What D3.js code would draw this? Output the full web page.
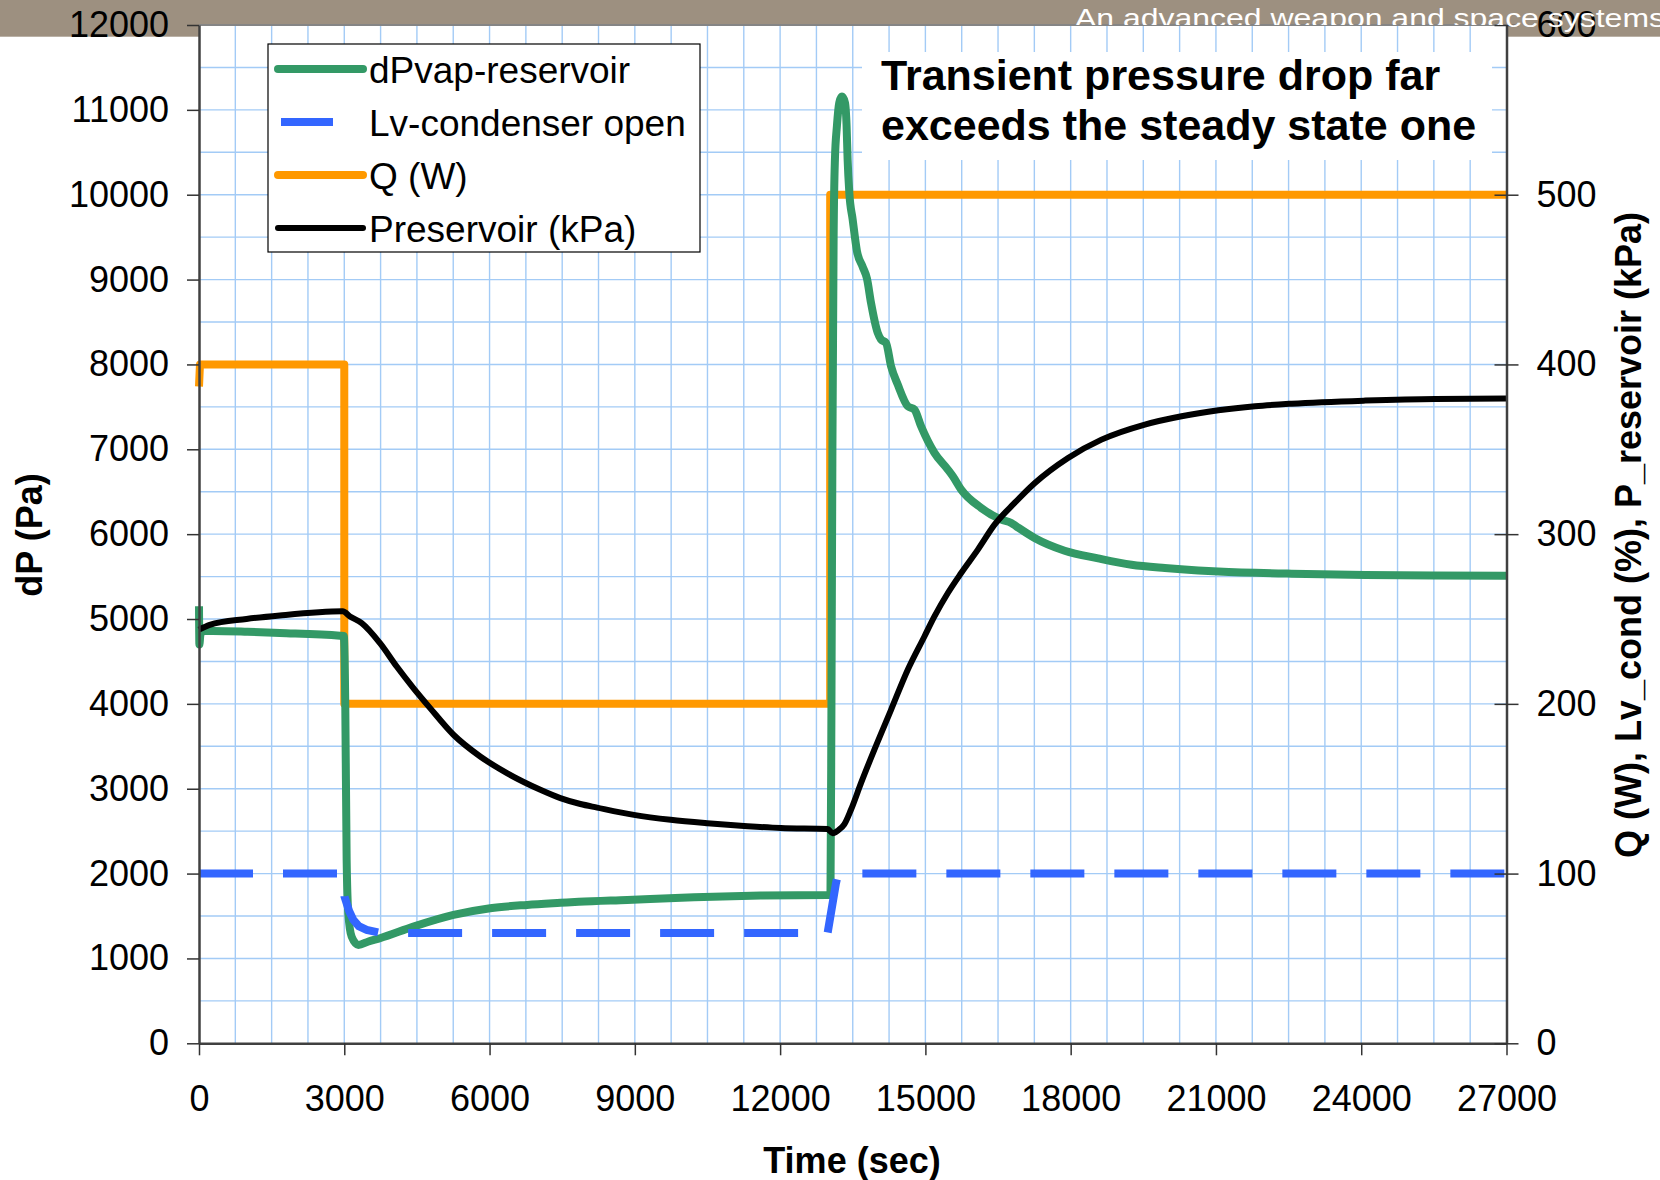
<!DOCTYPE html>
<html>
<head>
<meta charset="utf-8">
<script src="https://cdn.jsdelivr.net/npm/d3@7"></script>
<style>
  html, body { margin: 0; padding: 0; background: #fff; }
  svg { display: block; font-family: "Liberation Sans", Arial, sans-serif; }
</style>
</head>
<body>
<svg id="chart" width="1660" height="1180"></svg>
<script>
// values
// dPvap-reservoir (Pa, left axis)
const dpTime = [0, 8, 30, 100, 290, 1000, 1670, 2911, 2990, 3021, 3049, 3083, 3152, 3290, 3500, 3738, 4428, 5255, 6014, 6773, 7463, 7841, 8843, 10222, 11601, 12981, 13040, 13060, 13080, 13105, 13132, 13173, 13222, 13277, 13339, 13373, 13394, 13429, 13498, 13587, 13705, 13794, 13877, 14015, 14084, 14187, 14291, 14429, 14636, 14774, 14911, 15187, 15464, 15567, 15739, 16153, 16567, 16773, 16877, 17255, 17876, 18567, 19256, 19945, 20636, 21049, 22566, 24083, 25500, 27000]
const dpVal = [5150, 4700, 4820, 4858, 4860, 4850, 4835, 4803, 4800, 3969, 2161, 1533, 1257, 1159, 1200, 1238, 1375, 1513, 1592, 1631, 1655, 1667, 1690, 1722, 1741, 1749, 1749, 4000, 7000, 9500, 10416, 10809, 11085, 11156, 11085, 10809, 10416, 10024, 9709, 9335, 9150, 9010, 8726, 8373, 8294, 8255, 7979, 7763, 7507, 7468, 7271, 6958, 6761, 6682, 6525, 6309, 6171, 6132, 6092, 5955, 5805, 5715, 5640, 5601, 5573, 5561, 5534, 5519, 5513, 5511]

// Lv-condenser open (%, right axis)
const lvTime = [0, 3000, 3005, 3100, 3187, 3300, 3463, 3700, 4000, 12981, 13153, 13200, 27000]
const lvVal = [100, 100, 86.4, 78, 72.7, 69, 66.8, 65.4, 65, 65, 94.3, 100, 100]

// Q (W, right axis)
const qTime = [0, 20, 3000, 3000, 13034, 13034, 27000]
const qVal = [387, 400, 400, 200, 200, 500, 500]

// Preservoir (kPa, right axis)
const pTime = [0, 221, 980, 1670, 2966, 3118, 3360, 3738, 4083, 4428, 4773, 5255, 5807, 6359, 7049, 7463, 7876, 8222, 8980, 9739, 10498, 11256, 12015, 12981, 13084, 13200, 13325, 13463, 13670, 13945, 14291, 14636, 14980, 15187, 15464, 15739, 16084, 16428, 16842, 17255, 17946, 18636, 19532, 20290, 21049, 21807, 22566, 24083, 25532, 27000]
const pVal = [243.7, 246.6, 250, 252.1, 254.5, 251.5, 247.6, 235.8, 222, 209.3, 197.5, 181.8, 169, 159.2, 149.4, 144.5, 141, 138.9, 134.6, 131.7, 129.7, 128.1, 126.8, 126.2, 123.8, 125.5, 129, 137.6, 153.3, 172.9, 196.5, 220.1, 239.7, 251.5, 265.3, 277.1, 290.9, 305.6, 318.4, 330, 344.9, 355.7, 364.6, 369.5, 373, 375.4, 376.9, 378.7, 379.7, 379.9]

const xTicks = d3.range(0, 27001, 3000)
const yLeftTicks = d3.range(0, 12001, 1000)
const yRightTicks = d3.range(0, 601, 100)

const seriesNames = ['dPvap-reservoir', 'Lv-condenser open', 'Q (W)', 'Preservoir (kPa)']
const annotation = ['Transient pressure drop far', 'exceeds the steady state one']
const banner = 'An advanced weapon and space systems'

// layout
const margin = {left: 199, top: 25, right: 153.5, bottom: 136.7}
const W = 1660 - margin.left - margin.right
const H = 1180 - margin.top - margin.bottom
const svg = d3.select('#chart')

const x = d3.scaleLinear().domain([0, 27000]).range([0, W])
const yL = d3.scaleLinear().domain([0, 12000]).range([H, 0])
const yR = d3.scaleLinear().domain([0, 600]).range([H, 0])

// banner strip at the top
svg.append('rect').attr('x', 0).attr('y', 0).attr('width', 1660).attr('height', 36.7).attr('fill', '#9d9080')

const g = svg.append('g').attr('transform', `translate(${margin.left},${margin.top})`)

// plot background
g.append('rect').attr('width', W).attr('height', H).attr('fill', '#fff')

// grid
g.append('g').selectAll('line').data(d3.range(500, 12000, 500)).join('line')
  .attr('x1', 0).attr('x2', W).attr('y1', d => yL(d)).attr('y2', d => yL(d))
  .attr('stroke', '#a3cbf6').attr('stroke-width', 1.4)
g.append('g').selectAll('line').data(d3.range(750, 27000, 750)).join('line')
  .attr('y1', 0).attr('y2', H).attr('x1', d => x(d)).attr('x2', d => x(d))
  .attr('stroke', '#a3cbf6').attr('stroke-width', 1.4)
g.append('line').attr('x1', 0).attr('x2', W).attr('y1', 0).attr('y2', 0)
  .attr('stroke', '#858585').attr('stroke-width', 2)

// annotation box
g.append('rect').attr('x', 862 - margin.left).attr('y', 52 - margin.top)
  .attr('width', 630).attr('height', 108).attr('fill', '#fff')
g.append('text').attr('x', 881 - margin.left).attr('y', 90 - margin.top)
  .attr('font-size', 43).attr('font-weight', 'bold').attr('fill', '#000')
  .selectAll('tspan').data(annotation).join('tspan')
  .attr('x', 881 - margin.left).attr('dy', (d, i) => i === 0 ? 0 : 50).text(d => d)

// series
const mk = (ts, vs) => ts.map((t, i) => ({t: t, v: vs[i]}))
const lineR = d3.line().x(d => x(d.t)).y(d => yR(d.v))
const smoothL = d3.line().x(d => x(d.t)).y(d => yL(d.v)).curve(d3.curveMonotoneX)
const smoothR = d3.line().x(d => x(d.t)).y(d => yR(d.v)).curve(d3.curveMonotoneX)

g.append('path').attr('d', lineR(mk(qTime, qVal)))
  .attr('fill', 'none').attr('stroke', '#ff9900').attr('stroke-width', 8).attr('stroke-linejoin', 'round')
g.append('path').attr('d', smoothL(mk(dpTime, dpVal)))
  .attr('fill', 'none').attr('stroke', '#339966').attr('stroke-width', 8).attr('stroke-linejoin', 'round')
g.append('path').attr('d', lineR(mk(lvTime, lvVal)))
  .attr('fill', 'none').attr('stroke', '#3366ff').attr('stroke-width', 8).attr('stroke-dasharray', '54 30')
g.append('path').attr('d', smoothR(mk(pTime, pVal)))
  .attr('fill', 'none').attr('stroke', '#000').attr('stroke-width', 6).attr('stroke-linejoin', 'round')

// axes
const axisStyle = sel => {
  sel.attr('font-family', '"Liberation Sans", Arial, sans-serif')
  sel.select('.domain').attr('stroke', '#404040').attr('stroke-width', 2.5)
  sel.selectAll('.tick line').attr('stroke', '#333').attr('stroke-width', 1.5)
  sel.selectAll('.tick text').attr('font-size', 36).attr('fill', '#000')
}
const fmt = d3.format('d')
g.append('g').call(d3.axisLeft(yL).tickValues(yLeftTicks).tickFormat(fmt).tickSize(12).tickSizeOuter(0).tickPadding(18)).call(axisStyle)
g.append('g').attr('transform', `translate(0,${H})`)
  .call(d3.axisBottom(x).tickValues(xTicks).tickFormat(fmt).tickSize(12).tickSizeOuter(0).tickPadding(30)).call(axisStyle)
const rAxis = g.append('g').attr('transform', `translate(${W},0)`)
  .call(d3.axisRight(yR).tickValues(yRightTicks).tickFormat(fmt).tickSize(12).tickSizeOuter(0).tickPadding(18)).call(axisStyle)
rAxis.selectAll('.tick line').attr('x1', -12)

// axis titles
svg.append('text').attr('transform', 'translate(42,535) rotate(-90)').attr('text-anchor', 'middle')
  .attr('font-size', 36).attr('font-weight', 'bold').text('dP (Pa)')
svg.append('text').attr('transform', 'translate(1641,535) rotate(-90)').attr('text-anchor', 'middle')
  .attr('font-size', 36).attr('font-weight', 'bold').text('Q (W), Lv_cond (%), P_reservoir (kPa)')
svg.append('text').attr('x', 852).attr('y', 1173).attr('text-anchor', 'middle')
  .attr('font-size', 36).attr('font-weight', 'bold').text('Time (sec)')

// banner text, hidden where the plot area covers it
const clip = svg.append('clipPath').attr('id', 'bannerClip')
clip.append('rect').attr('x', 0).attr('y', 0).attr('width', 1660).attr('height', margin.top)
clip.append('rect').attr('x', margin.left + W).attr('y', 0).attr('width', 200).attr('height', 40)
svg.append('text').attr('clip-path', 'url(#bannerClip)')
  .attr('x', 1075).attr('y', 27).attr('font-size', 26).attr('fill', '#fff')
  .attr('textLength', 590).attr('lengthAdjust', 'spacingAndGlyphs').text(banner)

// legend
const legend = svg.append('g')
legend.append('rect').attr('x', 268).attr('y', 44).attr('width', 432).attr('height', 208)
  .attr('fill', '#fff').attr('stroke', '#000').attr('stroke-width', 1.2)
const legendStyle = [
  {color: '#339966', w: 8, x1: 278, x2: 363, cap: 'round'},
  {color: '#3366ff', w: 8, x1: 281, x2: 333, cap: 'butt'},
  {color: '#ff9900', w: 8, x1: 278, x2: 363, cap: 'round'},
  {color: '#000', w: 6, x1: 278, x2: 363, cap: 'round'}
]
const rows = legend.selectAll('.row').data(seriesNames).join('g').attr('class', 'row')
  .attr('transform', (d, i) => `translate(0,${69 + i * 53})`)
rows.append('line').attr('x1', (d, i) => legendStyle[i].x1).attr('x2', (d, i) => legendStyle[i].x2)
  .attr('stroke', (d, i) => legendStyle[i].color).attr('stroke-width', (d, i) => legendStyle[i].w)
  .attr('stroke-linecap', (d, i) => legendStyle[i].cap)
rows.append('text').attr('x', 369).attr('y', 13.5).attr('font-size', 37).text(d => d)
</script>
</body>
</html>
